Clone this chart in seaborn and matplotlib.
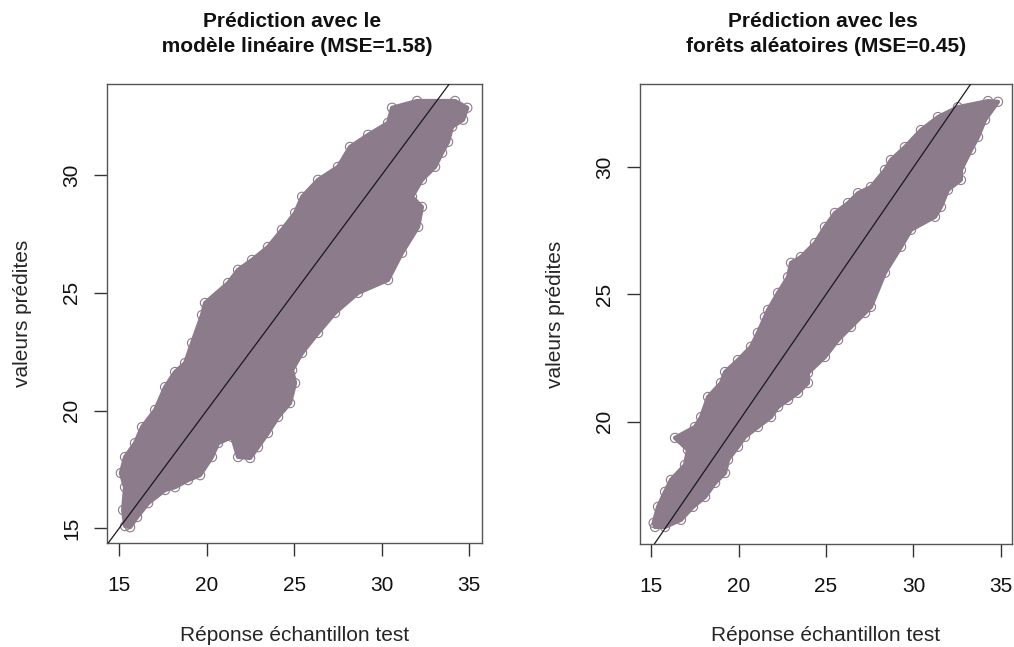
import numpy as np
import pandas as pd
import matplotlib
matplotlib.use("Agg")
import matplotlib.pyplot as plt
import seaborn as sns

# ---- data: outline of each point cloud (x = test response, y = prediction)
lm_x = [15.63, 16.03, 16.66, 17.63, 18.20, 18.94, 19.63, 20.31, 20.66, 21.46, 21.80, 22.49,
        22.94, 23.51, 24.09, 24.77, 25.06, 24.89, 25.46, 26.37, 27.34, 28.66, 30.37, 31.17,
        32.09, 32.31, 31.74, 32.31, 33.06, 33.46, 33.80, 34.03, 34.66, 34.90, 34.20, 32.03,
        30.60, 30.37, 29.23, 28.20, 27.51, 26.37, 25.46, 25.06, 24.31, 23.51, 22.60, 21.80,
        21.23, 19.91, 19.74, 19.17, 18.77, 18.20, 17.63, 17.06, 16.31, 15.91, 15.34, 15.10,
        15.34, 15.23, 15.34]
lm_y = [15.05, 15.48, 16.07, 16.63, 16.75, 17.05, 17.26, 18.03, 18.62, 18.88, 18.03, 17.99,
        18.45, 19.05, 19.73, 20.32, 21.17, 21.72, 22.45, 23.30, 24.15, 25.00, 25.55, 26.70,
        27.80, 28.65, 29.08, 29.80, 30.35, 30.95, 31.41, 32.05, 32.35, 32.86, 33.15, 33.15,
        32.86, 32.22, 31.71, 31.20, 30.35, 29.80, 29.08, 28.40, 27.68, 26.95, 26.40, 25.98,
        25.42, 24.57, 24.06, 22.87, 22.02, 21.64, 21.00, 20.03, 19.30, 18.62, 18.03, 17.35,
        16.75, 15.78, 15.10]

rf_x = [15.23, 15.80, 16.71, 17.40, 18.09, 18.66, 19.23, 19.40, 19.97, 20.37, 21.11, 21.86,
        22.26, 22.83, 23.40, 23.97, 23.97, 24.94, 25.69, 26.43, 27.23, 27.57, 28.37, 29.29,
        29.86, 31.23, 31.57, 31.97, 32.71, 32.71, 33.29, 33.69, 34.09, 34.83, 34.26, 32.54,
        31.40, 30.43, 29.51, 28.71, 28.37, 27.57, 26.83, 26.26, 25.51, 24.94, 24.37, 23.57,
        23.00, 22.83, 22.26, 21.69, 21.51, 21.11, 20.71, 19.97, 19.23, 19.00, 18.26, 17.86,
        17.51, 16.37, 17.11, 16.94, 16.14, 15.80, 15.40, 15.15]
rf_y = [15.86, 15.86, 16.14, 16.65, 17.04, 17.59, 17.98, 18.50, 19.01, 19.40, 19.79, 20.18,
        20.58, 20.85, 21.13, 21.52, 21.91, 22.54, 23.21, 23.72, 24.27, 24.51, 25.85, 26.87,
        27.54, 28.05, 28.44, 29.11, 29.50, 29.89, 30.68, 31.19, 31.86, 32.57, 32.60, 32.36,
        31.97, 31.46, 30.79, 30.28, 29.89, 29.22, 28.98, 28.59, 28.20, 27.65, 27.02, 26.47,
        26.24, 25.68, 25.06, 24.39, 24.11, 23.49, 22.94, 22.42, 21.95, 21.52, 20.97, 20.18,
        19.79, 19.36, 18.89, 18.30, 17.71, 17.24, 16.65, 16.02]

x_ticks = [15, 20, 25, 30, 35]
lm_y_ticks = [15, 20, 25, 30]
rf_y_ticks = [20, 25, 30]

titles = [("Prédiction avec le ", " modèle linéaire (MSE=1.58)"),
          ("Prédiction avec les ", "forêts aléatoires (MSE=0.45)")]
xlabel = "Réponse échantillon test"
ylabel = "valeurs prédites"

COL = "#8B7B8B"   # thistle4

sns.set_theme(style="white")
plt.rcParams["font.family"] = ["Liberation Sans", "DejaVu Sans"]
plt.rcParams["text.color"] = "#111111"

W, H = 1014, 647
fig = plt.figure(figsize=(W / 100, H / 100), dpi=100)
ax1 = fig.add_axes([107 / W, 1 - 543 / H, 375 / W, 459 / H])
ax2 = fig.add_axes([640 / W, 1 - 544 / H, 372 / W, 460 / H])

panels = [
    (ax1, lm_x, lm_y, lm_y_ticks, (14.31, 35.74), (14.38, 33.87)),
    (ax2, rf_x, rf_y, rf_y_ticks, (14.37, 35.63), (15.19, 33.27)),
]

for i, (ax, xs, ys, yt, xl, yl) in enumerate(panels):
    df = pd.DataFrame({"obs": xs, "pred": ys})
    ax.fill(df["obs"], df["pred"], color=COL, lw=3.0, ec=COL, joinstyle="round", zorder=1)
    sns.scatterplot(data=df, x="obs", y="pred", ax=ax, marker="o", s=44,
                    facecolor="none", edgecolor=COL, linewidth=0.8, zorder=2)
    ax.axline((0, 0), slope=1, color="#1a1a1a", lw=0.9, zorder=3)
    ax.set_xlim(*xl)
    ax.set_ylim(*yl)
    ax.set_xticks(x_ticks)
    ax.set_yticks(yt)
    ax.tick_params(axis="both", which="major", direction="out", length=9.5, width=1.0,
                   color="#333333", labelsize=15, labelcolor="#111111",
                   bottom=True, left=True)
    ax.tick_params(axis="x", pad=14)
    ax.tick_params(axis="y", pad=9)
    plt.setp(ax.get_yticklabels(), rotation=90, va="center")
    for sp in ax.spines.values():
        sp.set_visible(True)
        sp.set_color("#555555")
        sp.set_linewidth(1.0)
    ax.xaxis.set_label_coords(0.5, (543 - 626) / 459 if i == 0 else (544 - 626) / 460)
    ax.set_xlabel(xlabel, fontsize=15, va="top")
    ax.set_ylabel(ylabel, fontsize=15, labelpad=22)
    ax.grid(False)
    # titles, two lines
    pos = ax.get_position()
    cx = (pos.x0 + pos.x1) / 2
    fig.text(cx, 1 - 27 / H, titles[i][0], ha="center", va="baseline",
             fontsize=15, fontweight="bold")
    fig.text(cx, 1 - 52 / H, titles[i][1], ha="center", va="baseline",
             fontsize=15, fontweight="bold")

fig.savefig("out.png", dpi=100)
